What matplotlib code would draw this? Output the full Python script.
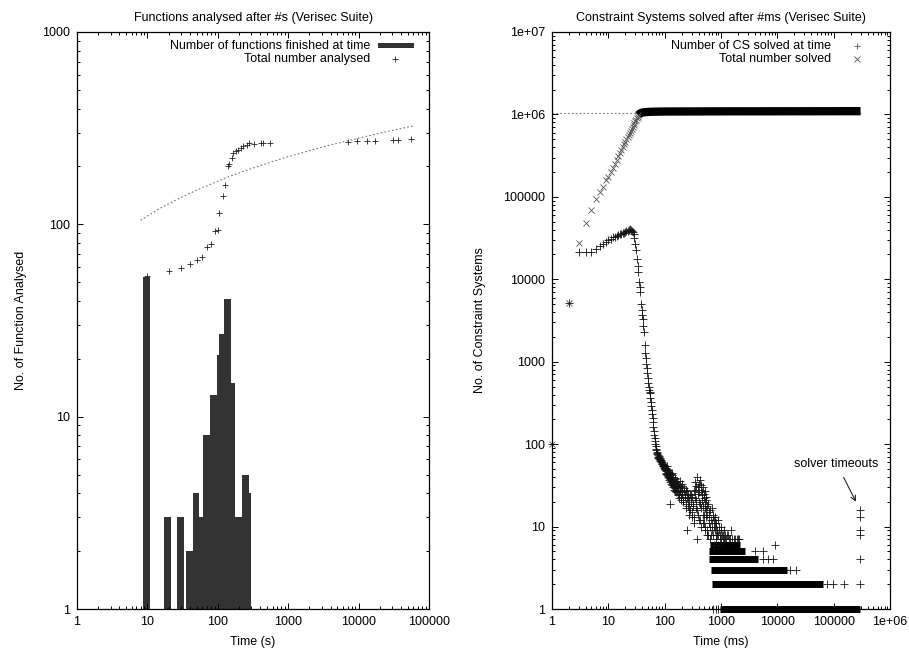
import matplotlib
matplotlib.use('Agg')
import matplotlib.pyplot as plt
from matplotlib.patches import Rectangle
from matplotlib.ticker import FixedLocator, LogLocator, NullFormatter

plt.rcParams['font.family'] = ['Liberation Sans', 'DejaVu Sans']
plt.rcParams['font.size'] = 9

# ---- left chart: functions analysed (seconds) ----
bar_left = [8.75, 17.4, 26.1, 35.3, 44.0, 54.6, 61.1, 77.5, 98.4, 105, 122, 152, 175, 218, 277]
bar_right = [10.9, 21.6, 32.8, 44.0, 54.6, 61.1, 77.5, 98.4, 105, 122, 152, 175, 218, 277, 296]
bar_height = [53, 3, 3, 2, 4, 3, 8, 13, 21, 27, 41, 15, 3, 5, 4]

total_x = [10, 20, 30, 40, 50, 60, 70, 80, 90, 100, 105, 117, 125, 138, 146, 157, 166, 179,
           196, 211, 230, 257, 277, 327, 407, 443, 551, 7140, 9400, 13000, 17100, 31100,
           36700, 55000]
total_y = [54, 57, 59, 62, 65, 68, 76, 79, 92, 94, 115, 141, 160, 200, 206, 222, 236, 241,
           244, 249, 254, 259, 264, 262, 264, 264, 265, 267, 270, 272, 272, 275, 275, 278]

fit_x = [8, 15, 30, 60, 138, 300, 1000, 3000, 7000, 20000, 60000]
fit_y = [105, 121, 138, 155, 176, 195, 225, 252, 272, 298, 325]

# ---- right chart: constraint systems solved (ms) ----
cs_x = [1, 2, 3, 4, 5, 6, 7, 8, 9, 10, 11, 12, 13, 14, 15, 16, 17, 18, 19, 20, 21, 22, 23,
        24, 25, 26, 27, 28, 29, 30, 31, 32, 33, 34, 35, 36, 37, 38, 39, 40, 41, 42, 43, 44,
        45, 46, 47, 48, 49, 50, 51, 52, 53, 54, 55, 56, 57, 58, 59, 60, 61, 62, 63, 64, 65,
        66, 67, 68, 69, 70]
cs_y = [100, 5100, 21600, 21400, 21500, 23300, 25300, 27000, 28600, 30000, 31000, 32300,
        33000, 33800, 34400, 35000, 35500, 36100, 36700, 37300, 38000, 38500, 39200, 40400,
        39500, 38500, 37800, 35000, 31400, 27000, 22600, 17500, 14500, 12400, 9300, 8000,
        7000, 5000, 4240, 3700, 3300, 2700, 2310, 1600, 1260, 1100, 950, 830, 720, 640, 547,
        500, 460, 430, 414, 360, 327, 290, 260, 230, 205, 185, 163, 145, 129, 118, 108, 100,
        95, 88]

# noisy tail 70 ms .. 2 s (two runs of the suite overlap here)
tail_x = [72, 74, 76, 78, 80, 82, 84, 86, 88, 90, 92, 94, 96, 98, 100, 102, 105, 108, 110,
          113, 116, 119, 122, 124, 126, 130, 134, 138, 142, 146, 150, 155, 160, 165, 170,
          175, 180, 185, 190, 195, 200, 205, 210, 220, 230, 240, 246, 250, 260, 270, 280,
          290, 300, 310, 320, 330, 340, 350, 360, 370, 375, 380, 390, 400, 410, 420, 430,
          440, 450, 460, 470, 480, 490, 500, 510, 520, 530, 540, 550, 560, 580, 600, 620,
          640, 660, 680, 700, 720, 740, 760, 780, 800, 820, 850, 880, 900, 930, 960, 1000,
          1050, 1100, 1150, 1200, 1300, 1400, 1500, 1700, 1900, 2100]
tail_y = [80, 76, 70, 72, 66, 68, 62, 64, 58, 60, 55, 57, 53, 56, 50, 52, 47, 54, 44, 49,
          41, 46, 38, 19, 43, 36, 45, 34, 40, 31, 38, 29, 35, 27, 33, 30, 25, 36, 28, 23, 31,
          26, 21, 29, 24, 19, 9, 27, 22, 17, 25, 20, 15, 23, 18, 13, 28, 35, 21, 7, 16, 40,
          30, 12, 26, 37, 19, 10, 32, 24, 14, 30, 22, 11, 27, 17, 9, 21, 13, 8, 19, 11, 15,
          7, 12, 17, 9, 14, 6, 10, 13, 7, 11, 8, 12, 6, 9, 7, 10, 8, 7, 9, 7, 8, 7, 9, 7, 7, 7]
tail2_x = [71, 73, 75, 77, 79, 81, 83, 85, 87, 89, 91, 93, 95, 97, 99, 101, 103, 104, 106,
           107, 109, 111, 112, 114, 115, 117, 118, 120, 121, 123, 125, 127, 128, 131, 133,
           135, 137, 140, 143, 145, 148, 152, 154, 157, 162, 163, 167, 172, 174, 178, 182,
           187, 192, 197, 202, 207, 213, 217, 225, 235, 238, 245, 255, 258, 265, 275, 285,
           295, 305, 315, 325, 335, 345, 355, 365, 385, 395, 405, 415, 425, 435, 445, 455,
           465, 475, 485, 495, 505, 515, 525, 535, 545, 555, 565, 575, 590, 610, 630, 650,
           670, 690, 710, 730, 750, 770, 790, 810, 830, 860, 890, 920, 950, 980, 1020, 1080,
           1130, 1180, 1250, 1350, 1450, 1600, 1800, 2000]
tail2_y = [84, 78, 74, 68, 70, 64, 66, 60, 62, 57, 59, 54, 56, 51, 54, 48, 50, 45, 51, 43,
           48, 42, 50, 40, 46, 39, 44, 37, 42, 35, 40, 33, 38, 44, 32, 37, 42, 30, 36, 28, 34,
           27, 39, 31, 26, 33, 36, 24, 29, 32, 22, 27, 30, 21, 25, 33, 20, 27, 23, 28, 17, 22,
           18, 25, 14, 21, 16, 24, 13, 19, 27, 11, 22, 17, 31, 25, 14, 33, 20, 12, 28, 17, 21,
           26, 11, 18, 25, 14, 20, 10, 16, 23, 9, 14, 18, 8, 13, 10, 16, 8, 11, 13, 8, 12, 9,
           11, 8, 10, 9, 8, 10, 8, 9, 7, 8, 7, 8, 7, 8, 7, 7, 7, 7]

# dense rows of small counts (value, first ms, last ms of the solid run)
row_y = [1, 2, 3, 4, 5, 6]
row_start = [960, 684, 656, 621, 621, 640]
row_end = [294000, 65600, 14700, 4590, 2670, 2170]

sparse_x = [721, 800, 880, 75300, 96200, 154000, 294000, 16800, 21200, 5630, 6920, 8490,
            294000, 4020, 5630, 9100, 294000, 294000, 294000, 294000]
sparse_y = [1, 1, 1, 2, 2, 2, 2, 3, 3, 4, 4, 4, 4, 5, 5, 6, 16, 13, 9, 8]

cum_x = [1, 2, 3, 4, 5, 6, 7, 8, 9, 10, 11, 12, 13, 14, 15, 16, 17, 18, 19, 20, 21, 22, 23,
         24, 25, 26, 27, 28, 29, 30, 31, 32, 33, 34]
cum_y = [100, 5200, 27400, 48600, 69200, 93300, 115600, 133000, 160000, 175000, 200000,
         226000, 253000, 281000, 310000, 339000, 370000, 401000, 433000, 465000, 498000,
         532000, 567000, 602000, 637000, 673000, 710000, 747000, 785000, 824000, 862000,
         900000, 940000, 983000]
cum_band_x = [34, 36, 38, 40, 45, 50, 60, 80, 100, 1000, 300000]
cum_band_y = [983000, 1020000, 1040000, 1055000, 1065000, 1072000, 1078000, 1082000,
              1085000, 1090000, 1095000]
cum_fit_x = [1, 300000]
cum_fit_y = [1030000, 1030000]

note_xy = (249000, 20)
note_text_xy = (113000, 58)

W, H = 909, 650
fig = plt.figure(figsize=(W / 100, H / 100), dpi=100)
ax1 = fig.add_axes([77 / W, 41 / H, 352 / W, 577 / H])
ax2 = fig.add_axes([552 / W, 41 / H, 338 / W, 577 / H])

bar_col = '#333333'
widths = [r - l for l, r in zip(bar_left, bar_right)]
ax1.bar(bar_left, bar_height, width=widths, align='edge', color=bar_col, edgecolor='none')
ax1.plot(total_x, total_y, '+', color='#222222', ms=5, mew=0.6)
ax1.plot(fit_x, fit_y, color='#777777', lw=0.8, ls=(0, (1.5, 2)))
ax1.set_xscale('log')
ax1.set_yscale('log')
ax1.set_xlim(1, 100000)
ax1.set_ylim(1, 1000)
ax1.set_title('Functions analysed after #s (Verisec Suite)', fontsize=9, pad=8)
ax1.set_xlabel('Time (s)', labelpad=6)
ax1.set_ylabel('No. of Function Analysed', labelpad=11)

ax1.text(0.832, 0.976, 'Number of functions finished at time', transform=ax1.transAxes,
         ha='right', va='center')
ax1.text(0.832, 0.954, 'Total number analysed', transform=ax1.transAxes,
         ha='right', va='center')
ax1.add_patch(Rectangle((0.854, 0.9717), 0.104, 0.0087, transform=ax1.transAxes,
                        color=bar_col, lw=0))
ax1.plot([0.903], [0.954], '+', color='#222222', ms=5, mew=0.6, transform=ax1.transAxes)

# right
pt = dict(color='#111111', ms=5.5, mew=0.6)
ax2.hlines(row_y, row_start, row_end, colors='black', lw=5, clip_on=False)
ax2.plot(cum_fit_x, cum_fit_y, color='#777777', lw=0.8, ls=(0, (1.5, 2)))
ax2.plot(cum_band_x, cum_band_y, color='black', lw=6, solid_capstyle='butt')
ax2.plot(cum_x, cum_y, 'x', color='#555555', ms=5, mew=0.6, clip_on=False)
ax2.plot(cs_x, cs_y, '+', clip_on=False, **pt)
ax2.plot(tail_x, tail_y, '+', **pt)
ax2.plot(tail2_x, tail2_y, '+', **pt)
ax2.plot(sparse_x, sparse_y, '+', clip_on=False, **pt)
ax2.annotate('solver timeouts', xy=note_xy, xytext=note_text_xy, ha='center', va='center',
             arrowprops=dict(arrowstyle='->', color='#222222', lw=0.8, shrinkA=4, shrinkB=0))
ax2.set_xscale('log')
ax2.set_yscale('log')
ax2.set_xlim(1, 1e6)
ax2.set_ylim(1, 1e7)
ax2.set_title('Constraint Systems solved after #ms (Verisec Suite)', fontsize=9, pad=8)
ax2.set_xlabel('Time (ms)', labelpad=6)
ax2.set_ylabel('No. of Constraint Systems', labelpad=12)

ax2.text(0.825, 0.976, 'Number of CS solved at time', transform=ax2.transAxes,
         ha='right', va='center')
ax2.text(0.825, 0.954, 'Total number solved', transform=ax2.transAxes,
         ha='right', va='center')
ax2.plot([0.901], [0.976], '+', color='#555555', ms=5, mew=0.6, transform=ax2.transAxes)
ax2.plot([0.901], [0.954], 'x', color='#555555', ms=5, mew=0.6, transform=ax2.transAxes)

lab1_x = ['1', '10', '100', '1000', '10000', '100000']
lab1_y = ['1', '10', '100', '1000']
lab2_x = ['1', '10', '100', '1000', '10000', '100000', '1e+06']
lab2_y = ['1', '10', '100', '1000', '10000', '100000', '1e+06', '1e+07']

for ax, lx, ly in [(ax1, lab1_x, lab1_y), (ax2, lab2_x, lab2_y)]:
    ax.xaxis.set_major_locator(FixedLocator([10 ** i for i in range(len(lx))]))
    ax.set_xticklabels(lx)
    ax.yaxis.set_major_locator(FixedLocator([10 ** i for i in range(len(ly))]))
    ax.set_yticklabels(ly)
    for a in (ax.xaxis, ax.yaxis):
        a.set_minor_locator(LogLocator(base=10, subs=range(2, 10), numticks=20))
        a.set_minor_formatter(NullFormatter())
    ax.tick_params(which='both', direction='in', top=True, right=True, width=0.7)
    ax.tick_params(which='major', length=4, pad=5)
    ax.tick_params(which='minor', length=2)
    for s in ax.spines.values():
        s.set_linewidth(0.9)

fig.savefig('out.png', dpi=100)
